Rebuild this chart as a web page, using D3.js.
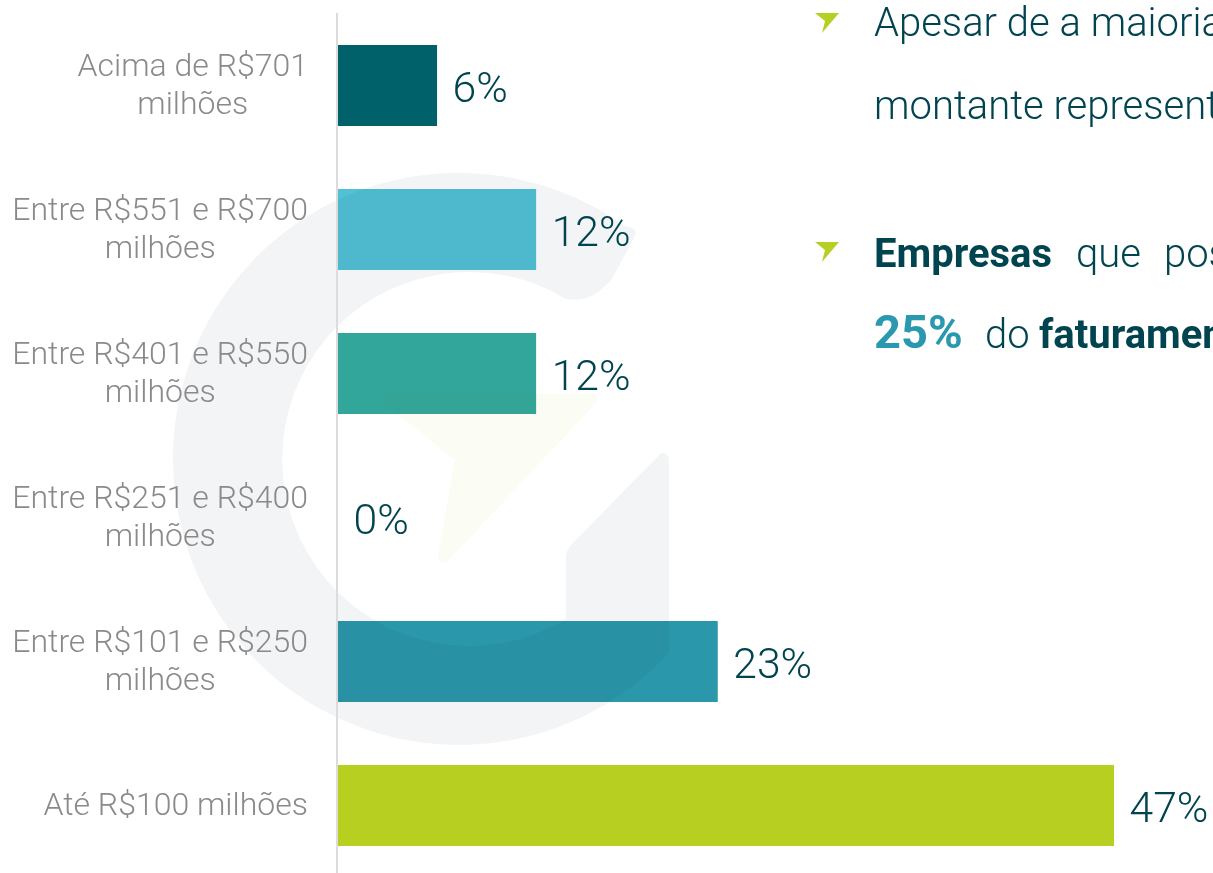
<!DOCTYPE html>
<html><head><meta charset="utf-8">
<script src="https://cdnjs.cloudflare.com/ajax/libs/d3/7.8.5/d3.min.js"></script>
<style>html,body{margin:0;padding:0;background:#fff;overflow:hidden}svg{display:block;font-family:Roboto,sans-serif}</style>
</head><body><svg id="c" width="1213" height="873"></svg>
<script>
const categories=[["Acima de R$701","milhões"],["Entre R$551 e R$700","milhões"],["Entre R$401 e R$550","milhões"],["Entre R$251 e R$400","milhões"],["Entre R$101 e R$250","milhões"],["Até R$100 milhões"]];
const values=[6,12,12,0,23,47];
const colors=["#00616b","#52c1d5","#33a69c","#2ba0a0","#2a98aa","#b7cf21"];
const valueFormat=v=>v+"%";

const svg=d3.select("#c");
const y=d3.scaleBand().domain(categories.map(c=>c.join(" "))).range([45,846]).paddingInner(63/144).paddingOuter(0);
const x=d3.scaleLinear().domain([0,47]).range([338,1114]);

// bars
svg.append("g").selectAll("rect").data(values).join("rect")
  .attr("x",x(0)).attr("y",(d,i)=>y(categories[i].join(" ")))
  .attr("width",d=>x(d)-x(0)).attr("height",y.bandwidth())
  .attr("fill",(d,i)=>colors[i]);

// watermark over the bars
const wm=svg.append("g").style("mix-blend-mode","multiply");
wm.append("path").attr("fill","#f3f4f6")
  .attr("d","M625,226 A286 286 0 1 0 669,653 L669,460 Q669,452 661,453 L572,544 Q566,550 566,558 L566,619 A187 187 0 1 1 566,299 Q590,303 606,285 Q612,280 615,273 L634,238 Q640,228 625,226 Z");
wm.append("path").attr("fill","#fbfcf3")
  .attr("d","M372,394 L592,394 Q600,397 596,403 L448,561 Q440,566 438,556 L455,460 Z");

// axis line
svg.append("line").attr("x1",337).attr("x2",337).attr("y1",13).attr("y2",873).attr("stroke","#dcdcdc").attr("stroke-width",2);

// category labels
const axis=d3.axisLeft(y).tickSize(0).tickPadding(0);
const ag=svg.append("g").attr("transform","translate(308,0)").call(axis);
ag.select(".domain").remove();
ag.selectAll(".tick text").each(function(d,i){
  const lines=categories[i], t=d3.select(this).text(null).attr("dy",null).attr("x",0).attr("y",0)
    .attr("font-family","Roboto").attr("font-weight",300).attr("font-size",32).attr("fill","#8a8a8a").attr("text-anchor","middle");
  const spans=lines.map((s,k)=>t.append("tspan").attr("x",0).attr("y",lines.length>1?(k===0?-10:28.5):9).text(s));
  const w=spans[0].node().getComputedTextLength();
  spans.forEach(s=>s.attr("x",-w/2));
});

// value labels
svg.append("g").selectAll("text").data(values).join("text")
  .attr("x",d=>x(d)+15.5).attr("y",(d,i)=>y(categories[i].join(" "))+y.bandwidth()/2+16)
  .attr("font-weight",300).attr("font-size",42.7).attr("fill","#004450").text(valueFormat);

// side text
const textDark="#004450";
const side=svg.append("g").attr("font-size",40).attr("fill",textDark).attr("font-weight",300);
side.append("text").attr("x",874).attr("y",36).text("Apesar de a maioria");
side.append("text").attr("x",874).attr("y",119).text("montante represent");
const l3=side.append("text").attr("y",267);
l3.append("tspan").attr("x",874).attr("font-weight",700).text("Empresas");
l3.append("tspan").attr("x",1076).text("que");
l3.append("tspan").attr("x",1164).text("pos");
const l4=side.append("text").attr("y",348);
l4.append("tspan").attr("x",874).attr("font-weight",700).attr("font-size",47).attr("fill","#2a98ae").text("25%");
l4.append("tspan").attr("x",985).text("do");
l4.append("tspan").attr("x",1039).attr("font-weight",700).text("faturamen");

// bullets
svg.append("g").selectAll("path").data([13,242]).join("path")
  .attr("fill","#b7cf21")
  .attr("d",d=>`M815,${d} L839,${d} L822,${d+20} L825,${d+8} Z`);
</script></body></html>
